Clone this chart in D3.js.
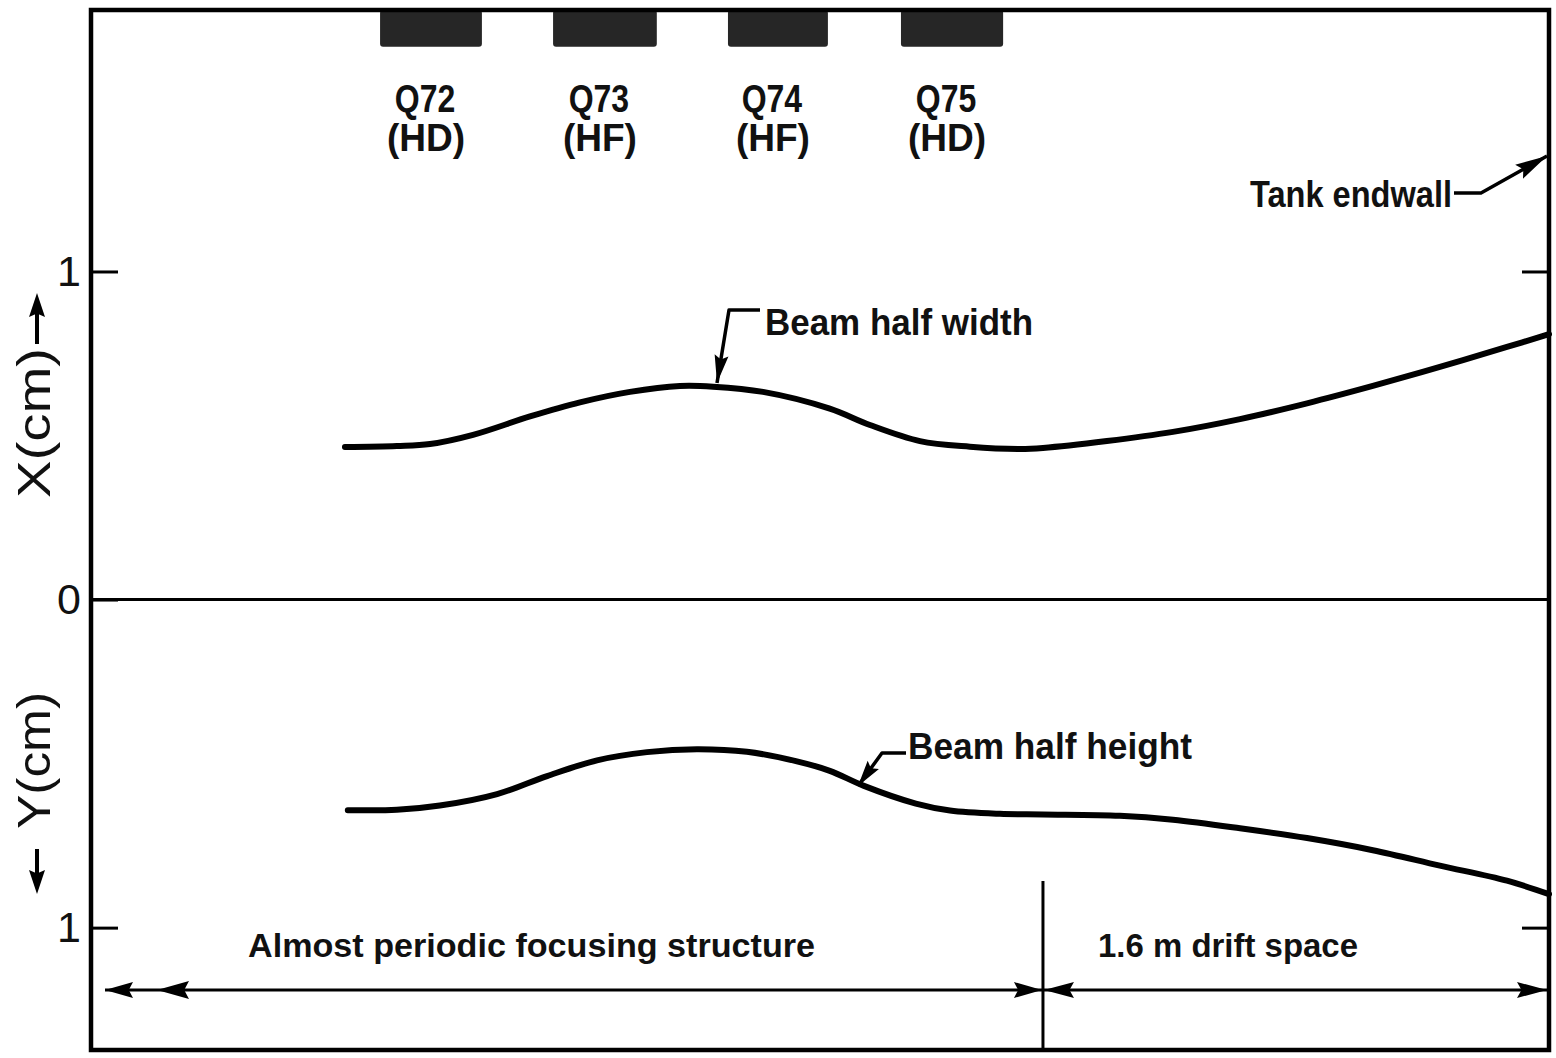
<!DOCTYPE html>
<html>
<head>
<meta charset="utf-8">
<script src="https://cdn.jsdelivr.net/npm/d3@7"></script>
<style>
  html, body { margin: 0; padding: 0; background: #fff; }
  svg { display: block; }
  .lbl { font-family: "Liberation Sans", Arial, sans-serif; font-weight: bold; fill: #111; }
  .axis-title { font-family: "Liberation Sans", Arial, sans-serif; fill: #111; }
  .tick text { font-family: "Liberation Sans", Arial, sans-serif; fill: #111; }
</style>
</head>
<body>
<div class="chart"></div>
<script>
// quadrupoles (positions in m, 0 = start of drift space)
var quadNames = ["Q72", "Q73", "Q74", "Q75"],
  quadTypes = ["(HD)", "(HF)", "(HF)", "(HD)"],
  quadStart = [-2.096, -1.549, -0.996, -0.449],
  quadEnd = [-1.774, -1.221, -0.680, -0.126];

// beam half width X (cm) along the line
var posX = [-2.207, -2.043, -1.938, -1.802, -1.622, -1.464, -1.306, -1.148, -1.043, -0.885, -0.674, -0.547, -0.389, -0.231, -0.073, 0, 0.202, 0.411, 0.623, 0.835, 1.043, 1.255, 1.467, 1.6],
  halfWidth = [0.465, 0.468, 0.474, 0.502, 0.558, 0.601, 0.633, 0.651, 0.649, 0.633, 0.582, 0.532, 0.483, 0.466, 0.459, 0.462, 0.483, 0.511, 0.550, 0.598, 0.651, 0.709, 0.770, 0.809];

// beam half height Y (cm), drawn downward
var posY = [-2.198, -2.043, -1.907, -1.726, -1.568, -1.410, -1.252, -1.094, -0.936, -0.778, -0.674, -0.566, -0.402, -0.294, -0.136, 0, 0.243, 0.411, 0.623, 0.835, 1.043, 1.255, 1.467, 1.6],
  halfHeight = [0.642, 0.641, 0.628, 0.593, 0.538, 0.490, 0.465, 0.456, 0.464, 0.493, 0.522, 0.568, 0.622, 0.643, 0.653, 0.655, 0.659, 0.671, 0.697, 0.727, 0.764, 0.811, 0.857, 0.898];

var yTicks = [-1, 0, 1],
  driftLength = 1.6;

var width = 1556, height = 1058;

var x = d3.scaleLinear().domain([-3.01, driftLength]).range([91, 1549]);
var y = d3.scaleLinear().domain([-1.373, 1.797]).range([1050, 10]);

var svg = d3.select(".chart").append("svg")
    .attr("width", width)
    .attr("height", height);

// zero line
svg.append("line")
    .attr("x1", x.range()[0]).attr("x2", x.range()[1])
    .attr("y1", y(0)).attr("y2", y(0))
    .attr("stroke", "#000").attr("stroke-width", 3);

// ticks
var yAxisL = d3.axisLeft(y).tickValues(yTicks).tickSize(-27).tickPadding(10)
  .tickFormat(function(d){ return Math.abs(d); });
var gl = svg.append("g").attr("transform", "translate(" + x.range()[0] + ",0)").call(yAxisL);
gl.select(".domain").remove();
gl.selectAll(".tick line").attr("stroke", "#000").attr("stroke-width", 3);
gl.selectAll(".tick text").attr("font-size", 43);

var yAxisR = d3.axisRight(y).tickValues([-1, 1]).tickSize(-27).tickFormat("");
var gr = svg.append("g").attr("transform", "translate(" + x.range()[1] + ",0)").call(yAxisR);
gr.select(".domain").remove();
gr.selectAll(".tick line").attr("stroke", "#000").attr("stroke-width", 3);

// quadrupole blocks
var quads = quadNames.map(function(n, i){
  return {name: n, type: quadTypes[i], start: quadStart[i], end: quadEnd[i]};
});

svg.selectAll(".quad")
    .data(quads)
  .enter().append("rect")
    .attr("class", "quad")
    .attr("x", function(d){ return x(d.start); })
    .attr("width", function(d){ return x(d.end) - x(d.start); })
    .attr("y", y.range()[1])
    .attr("height", y(1.685) - y.range()[1])
    .attr("rx", 3)
    .attr("fill", "#262626");

function condense(sel, k){
  sel.each(function(){
    var w = this.getComputedTextLength();
    d3.select(this).attr("textLength", w * k).attr("lengthAdjust", "spacingAndGlyphs");
  });
}

svg.selectAll(".qname")
    .data(quads)
  .enter().append("text")
    .attr("class", "qname lbl")
    .attr("x", function(d){ return (x(d.start) + x(d.end)) / 2 - 6; })
    .attr("y", 112)
    .attr("text-anchor", "middle")
    .attr("font-size", 39)
    .text(function(d){ return d.name; })
    .call(condense, 0.82);

svg.selectAll(".qtype")
    .data(quads)
  .enter().append("text")
    .attr("class", "qtype lbl")
    .attr("x", function(d){ return (x(d.start) + x(d.end)) / 2 - 5; })
    .attr("y", 151)
    .attr("text-anchor", "middle")
    .attr("font-size", 39)
    .text(function(d){ return d.type; })
    .call(condense, 0.95);

// beam envelopes
var line = d3.line()
    .x(function(d){ return x(d[0]); })
    .y(function(d){ return y(d[1]); })
    .curve(d3.curveCatmullRom.alpha(0.5));

svg.append("path")
    .datum(posX.map(function(p, i){ return [p, halfWidth[i]]; }))
    .attr("d", line)
    .attr("fill", "none").attr("stroke", "#000")
    .attr("stroke-width", 6).attr("stroke-linecap", "round");

svg.append("path")
    .datum(posY.map(function(p, i){ return [p, -halfHeight[i]]; }))
    .attr("d", line)
    .attr("fill", "none").attr("stroke", "#000")
    .attr("stroke-width", 6).attr("stroke-linecap", "round");

// arrow heads
function arrowHead(tip, from, len, hw){
  var dx = from[0] - tip[0], dy = from[1] - tip[1],
    d = Math.sqrt(dx * dx + dy * dy), ux = dx / d, uy = dy / d,
    bx = tip[0] + ux * len, by = tip[1] + uy * len;
  var pts = [tip, [bx - uy * hw, by + ux * hw], [tip[0] + ux * len * 0.85, tip[1] + uy * len * 0.85], [bx + uy * hw, by - ux * hw]];
  svg.append("path")
      .attr("d", "M" + pts.join("L") + "Z")
      .attr("fill", "#000");
}

function leader(pts){
  svg.append("path")
      .attr("d", "M" + pts.join("L"))
      .attr("fill", "none").attr("stroke", "#000").attr("stroke-width", 3.5)
      .attr("stroke-linejoin", "round");
}

// leaders
leader([[760, 310], [729, 310], [717, 383]]);
arrowHead([717, 383], [729, 310], 28, 7);

leader([[906, 753], [882, 753], [858, 786]]);
arrowHead([858, 786], [882, 753], 26, 7);

leader([[1454, 193], [1481, 193], [1547, 156]]);
arrowHead([1547, 156], [1481, 193], 32, 8);

// dimension line
var dimY = 990, xDrift = x(0);
svg.append("line")
    .attr("x1", 105).attr("x2", x.range()[1] - 2)
    .attr("y1", dimY).attr("y2", dimY)
    .attr("stroke", "#000").attr("stroke-width", 3);
svg.append("line")
    .attr("x1", xDrift).attr("x2", xDrift)
    .attr("y1", 881).attr("y2", y.range()[0])
    .attr("stroke", "#000").attr("stroke-width", 3);
arrowHead([105, dimY], [200, dimY], 28, 8);
arrowHead([157, dimY], [250, dimY], 32, 9);
arrowHead([xDrift - 1, dimY], [xDrift - 100, dimY], 28, 8);
arrowHead([xDrift + 1, dimY], [xDrift + 100, dimY], 30, 8);
arrowHead([x.range()[1] - 2, dimY], [x.range()[1] - 100, dimY], 30, 8);

// text labels
function label(txt, tx, ty, fs, w){
  svg.append("text")
      .attr("class", "lbl")
      .attr("x", tx).attr("y", ty)
      .attr("font-size", fs)
      .attr("textLength", w).attr("lengthAdjust", "spacingAndGlyphs")
      .text(txt);
}
label("Tank endwall", 1250, 207, 36, 202);
label("Beam half width", 765, 335, 37, 268);
label("Beam half height", 908, 759, 37, 284);
label("Almost periodic focusing structure", 248, 957, 33, 567);
label("1.6 m drift space", 1098, 957, 33, 260);

// axis titles
svg.append("text")
    .attr("class", "axis-title")
    .attr("transform", "translate(50,498) rotate(-90)")
    .attr("font-size", 46)
    .attr("textLength", 150).attr("lengthAdjust", "spacingAndGlyphs")
    .text("X(cm)");
svg.append("text")
    .attr("class", "axis-title")
    .attr("transform", "translate(50,829) rotate(-90)")
    .attr("font-size", 46)
    .attr("textLength", 137).attr("lengthAdjust", "spacingAndGlyphs")
    .text("Y(cm)");

svg.append("line").attr("x1", 37).attr("x2", 37).attr("y1", 344).attr("y2", 312)
    .attr("stroke", "#000").attr("stroke-width", 4);
arrowHead([37, 293], [37, 344], 24, 8);
svg.append("line").attr("x1", 37).attr("x2", 37).attr("y1", 849).attr("y2", 878)
    .attr("stroke", "#000").attr("stroke-width", 4);
arrowHead([37, 894], [37, 849], 24, 8);

// frame
svg.append("rect")
    .attr("x", x.range()[0]).attr("y", y.range()[1])
    .attr("width", x.range()[1] - x.range()[0])
    .attr("height", y.range()[0] - y.range()[1])
    .attr("fill", "none").attr("stroke", "#000").attr("stroke-width", 4.5);
</script>
</body>
</html>
